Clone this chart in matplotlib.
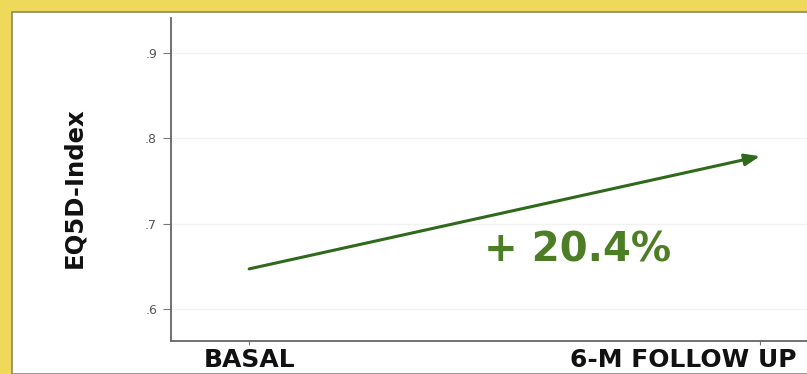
import matplotlib

matplotlib.use("Agg")
import matplotlib.pyplot as plt  # noqa: E402
from matplotlib.patches import Rectangle  # noqa: E402
from matplotlib.transforms import ScaledTranslation  # noqa: E402

# data
timepoints = ["BASAL", "6-M FOLLOW UP"]
eq5d_index = [0.647, 0.779]
change_label = "+ 20.4%"
y_ticks = [0.6, 0.7, 0.8, 0.9]
y_tick_labels = [".6", ".7", ".8", ".9"]

fig = plt.figure(figsize=(8.07, 3.74), dpi=100)
fig.patch.set_facecolor("#efd95a")
# white panel inside the yellow frame
fig.patches.append(Rectangle((12 / 807, 0), 1, 1 - 12 / 374,
                             transform=fig.transFigure, facecolor="white",
                             edgecolor="#8a8a60", lw=1.2, zorder=-1))

ax = fig.add_axes([171 / 807, 33 / 374, 1 - 171 / 807, 323 / 374])
ax.set_zorder(2)
ax.set_facecolor("none")

x = list(range(len(timepoints)))
ax.annotate("", xy=(x[1], eq5d_index[1]), xytext=(x[0], eq5d_index[0]),
            arrowprops=dict(arrowstyle="-|>,head_length=0.9,head_width=0.35",
                            color="#2f6a1c", lw=2.2, shrinkA=0, shrinkB=0))
ax.text(0.642, 0.668, change_label, ha="center", va="center",
        fontsize=29, fontweight="bold", color="#4d7d25")

ax.set_xlim(-0.153, 1.092)
ax.set_ylim(0.5625, 0.941)
ax.set_xticks(x)
ax.set_xticklabels(timepoints, fontsize=18, fontweight="bold", color="#111111")
ax.set_yticks(y_ticks)
ax.set_yticklabels(y_tick_labels, fontsize=9, color="#555555")
ax.tick_params(axis="y", length=6, color="#777777", pad=4)
ax.tick_params(axis="x", length=3, color="#777777", pad=2)
# the follow-up label sits left of its tick, flush with the right edge
last = ax.get_xticklabels()[-1]
last.set_ha("right")
last.set_transform(last.get_transform()
                   + ScaledTranslation(0.36, 0, fig.dpi_scale_trans))

ax.set_ylabel("EQ5D-Index", fontsize=17.5, fontweight="bold", color="#111111")
ax.yaxis.set_label_coords(-0.134, 0.474)
ax.grid(axis="y", color="#f2f2f2", lw=1)
for side in ["top", "right"]:
    ax.spines[side].set_visible(False)
for side in ["left", "bottom"]:
    ax.spines[side].set_color("#666666")
    ax.spines[side].set_linewidth(1.3)

fig.savefig("out.png", dpi=100)
